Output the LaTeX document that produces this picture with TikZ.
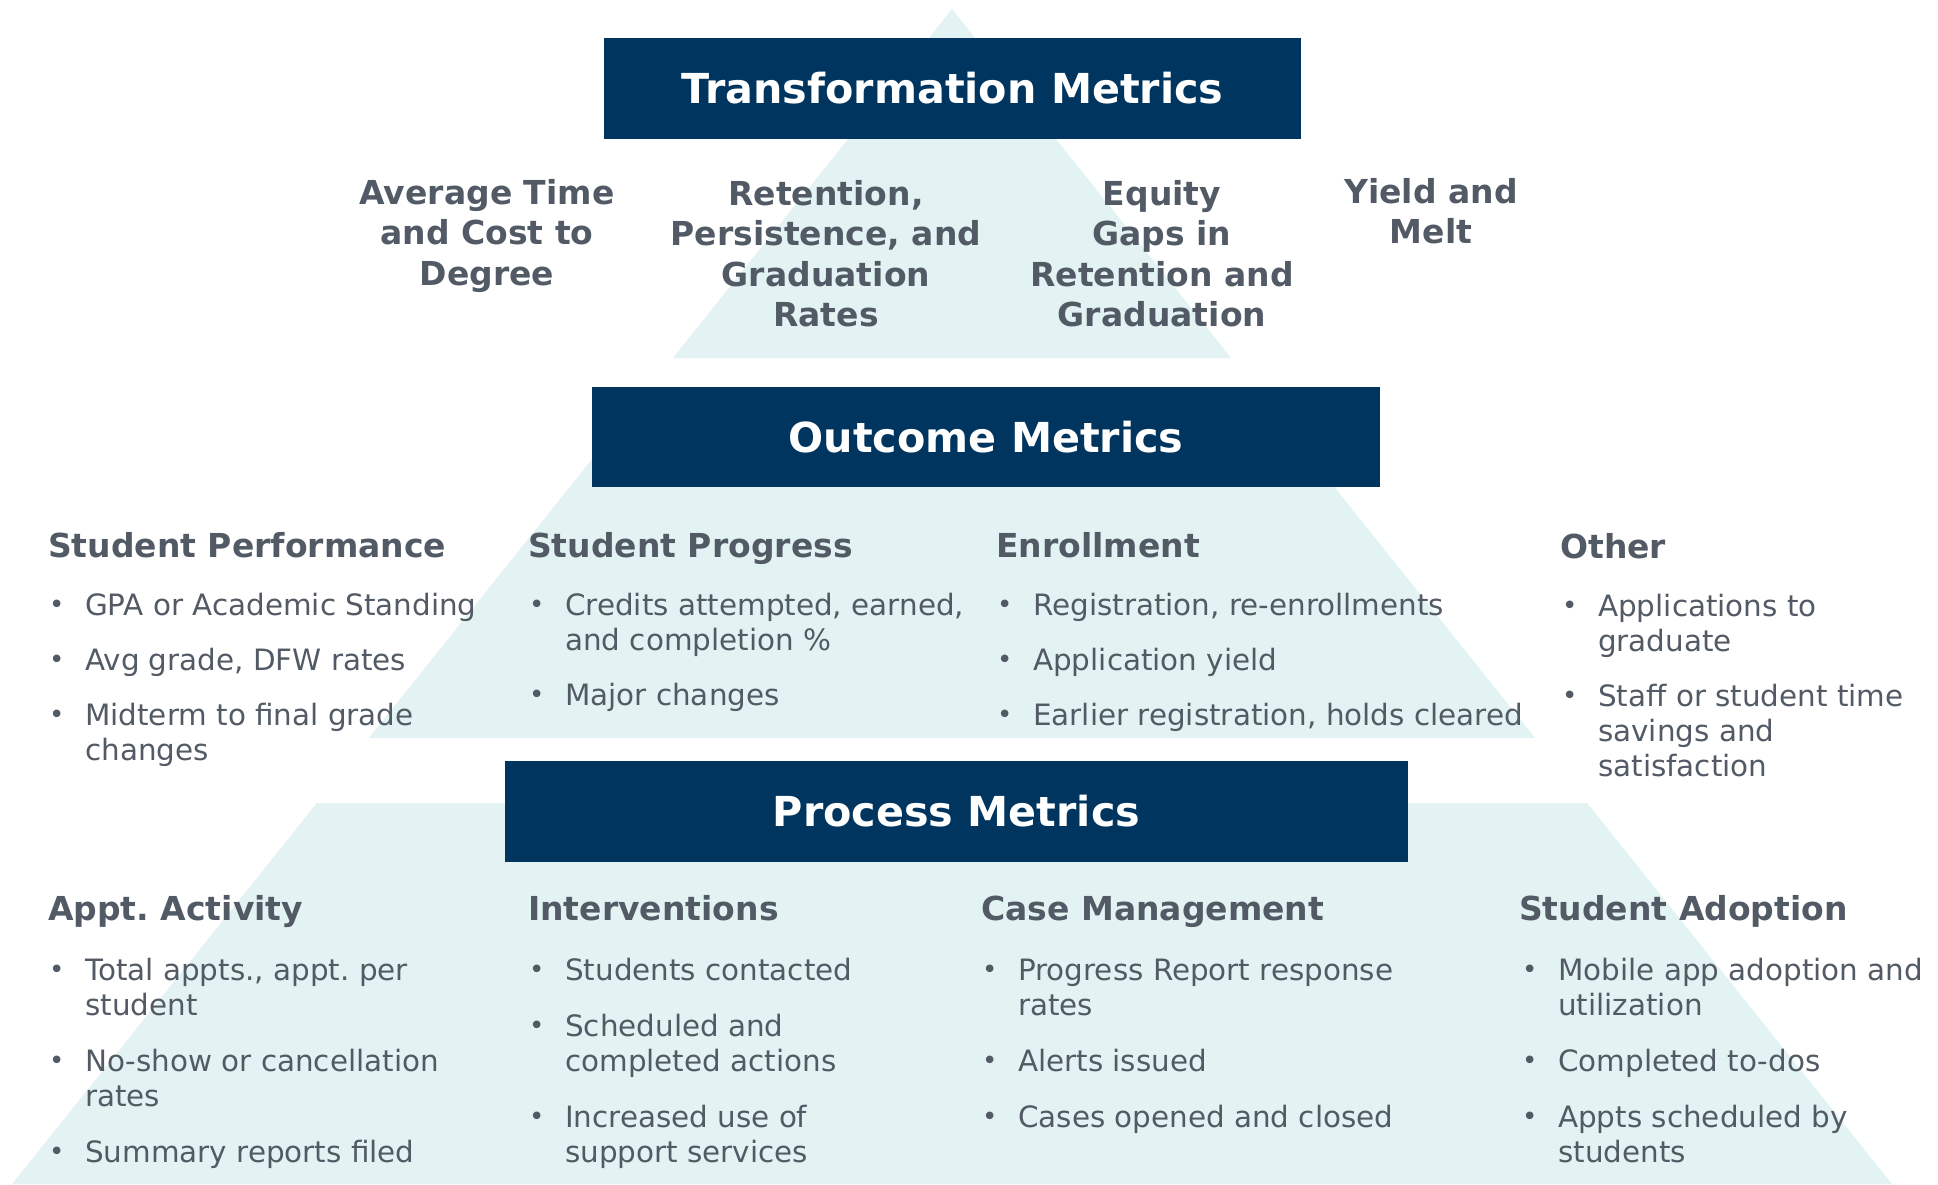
\documentclass[tikz,border=0pt]{standalone}
\usepackage{fontspec}
\setmainfont{DejaVu Sans}
\frenchspacing
\definecolor{navy}{HTML}{00355F}
\definecolor{tri}{HTML}{E3F3F3}
\definecolor{txt}{HTML}{525B65}
% #1 name, #2 x, #3 first baseline, #4 extra lines, #5 text
\newcommand\bitem[5]{%
  \node[bdot] (#1d) at (#2-36,#3) {•};
  \node[btxt] (#1) at (#2,#3+2+35*#4) {#5};}
\begin{document}
\begin{tikzpicture}[x=1pt,y=-1pt,
  band/.style={fill=tri, draw=none},
  titlebox/.style={fill=navy, draw=none, text=white, inner sep=0,
    font=\fontsize{41.3}{48}\selectfont\bfseries\frenchspacing},
  trans/.style={text=txt, font=\fontsize{33}{40.5}\selectfont\bfseries, align=center, inner sep=0, anchor=base},
  cathead/.style={text=txt, font=\fontsize{33}{38}\selectfont\bfseries\frenchspacing, inner sep=0, anchor=base west},
  btxt/.style={text=txt, font=\fontsize{29.4}{35}\selectfont\frenchspacing, align=left, inner sep=0, anchor=base west},
  bdot/.style={text=txt, font=\fontsize{26}{35}\selectfont, inner sep=0, anchor=base west},
]
\useasboundingbox (0,0) rectangle (1938,1184);
% pyramid bands
\fill[band] (952,9) -- (1231.2,358) -- (672.8,358) -- cycle;
\fill[band] (623.2,420) -- (1280.8,420) -- (1535.2,738) -- (368.8,738) -- cycle;
\fill[band] (316.8,803) -- (1587.2,803) -- (1892,1184) -- (12,1184) -- cycle;
% title boxes
\node[titlebox, minimum width=697pt, minimum height=101pt] (tbox) at (952.5,88.5) {Transformation Metrics};
\node[titlebox, minimum width=788pt, minimum height=100pt] (obox) at (986,437) {Outcome Metrics};
\node[titlebox, minimum width=903pt, minimum height=101pt] (pbox) at (956.5,811.5) {Process Metrics};
% transformation items (anchored at last line baseline)
\node[trans] (t1) at (487,285) {Average Time\\and Cost to\\Degree};
\node[trans] (t2) at (826,326.5) {Retention,\\Persistence, and\\Graduation\\Rates};
\node[trans] (t3) at (1162,326.5) {Equity\\Gaps in\\Retention and\\Graduation};
\node[trans] (t4) at (1431,243.5) {Yield and\\Melt};
% outcome
\node[cathead] (o1) at (48,557) {Student Performance};
\bitem{o1a}{85}{613}{0}{GPA or Academic Standing}
\bitem{o1b}{85}{668}{0}{Avg grade, DFW rates}
\bitem{o1c}{85}{723}{1}{Midterm to final grade\\changes}
\node[cathead] (o2) at (528,557) {Student Progress};
\bitem{o2a}{565}{613}{1}{Credits attempted, earned,\\and completion \%}
\bitem{o2b}{565}{703}{0}{Major changes}
\node[cathead] (o3) at (996,557) {Enrollment};
\bitem{o3a}{1033}{613}{0}{Registration, re-enrollments}
\bitem{o3b}{1033}{668}{0}{Application yield}
\bitem{o3c}{1033}{723}{0}{Earlier registration, holds cleared}
\node[cathead] (o4) at (1560,558) {Other};
\bitem{o4a}{1598}{614}{1}{Applications to\\graduate}
\bitem{o4b}{1598}{704}{2}{Staff or student time\\savings and\\satisfaction}
% process
\node[cathead] (p1) at (48,920) {Appt. Activity};
\bitem{p1a}{85}{978}{1}{Total appts., appt. per\\student}
\bitem{p1b}{85}{1069}{1}{No-show or cancellation\\rates}
\bitem{p1c}{85}{1160}{0}{Summary reports filed}
\node[cathead] (p2) at (528,920) {Interventions};
\bitem{p2a}{565}{978}{0}{Students contacted}
\bitem{p2b}{565}{1034}{1}{Scheduled and\\completed actions}
\bitem{p2c}{565}{1125}{1}{Increased use of\\support services}
\node[cathead] (p3) at (981,920) {Case Management};
\bitem{p3a}{1018}{978}{1}{Progress Report response\\rates}
\bitem{p3b}{1018}{1069}{0}{Alerts issued}
\bitem{p3c}{1018}{1125}{0}{Cases opened and closed}
\node[cathead] (p4) at (1519,920) {Student Adoption};
\bitem{p4a}{1558}{978}{1}{Mobile app adoption and\\utilization}
\bitem{p4b}{1558}{1069}{0}{Completed to-dos}
\bitem{p4c}{1558}{1125}{1}{Appts scheduled by\\students}
\end{tikzpicture}
\end{document}
